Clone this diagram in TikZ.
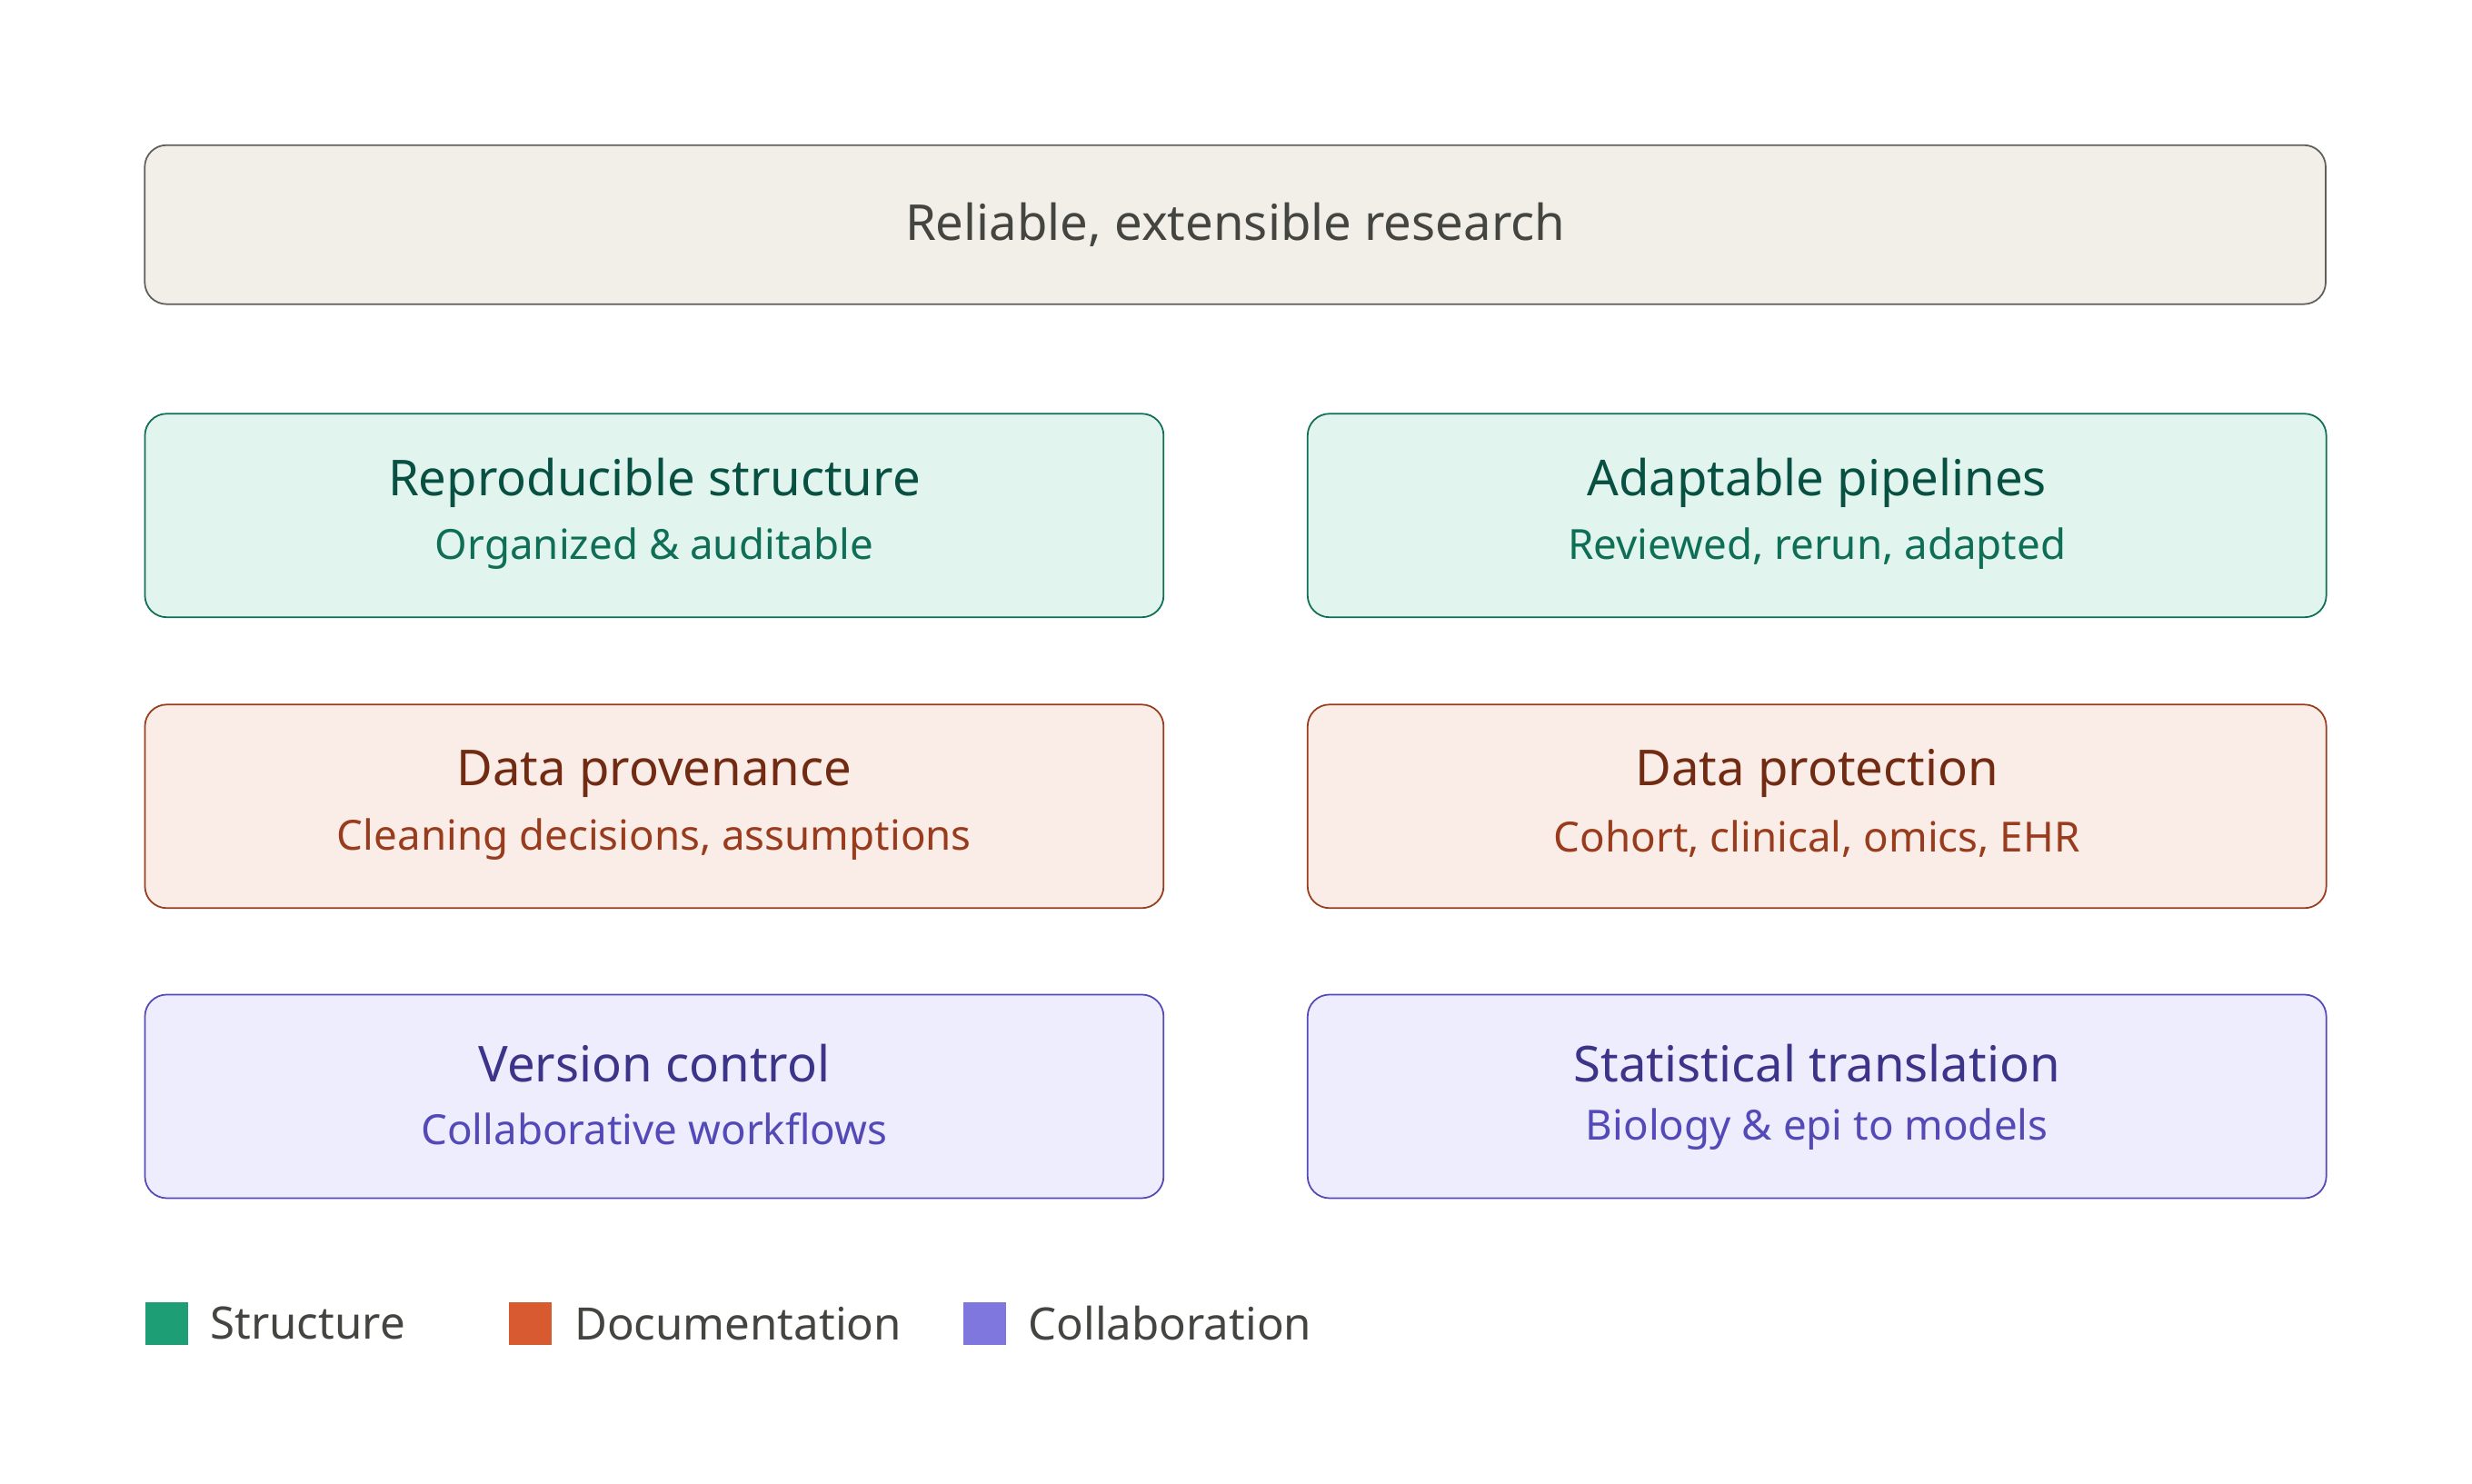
\documentclass[tikz,border=0pt]{standalone}
\usepackage{fontspec}
\setmainfont{Noto Sans}
\usetikzlibrary{positioning}
\definecolor{topfill}{HTML}{F1EFE8}\definecolor{topline}{HTML}{5F5E5A}\definecolor{toptext}{HTML}{444441}
\definecolor{gfill}{HTML}{E1F5EE}\definecolor{gline}{HTML}{0F6E56}\definecolor{gtitle}{HTML}{085041}\definecolor{gkey}{HTML}{1D9E75}
\definecolor{ofill}{HTML}{FAECE7}\definecolor{oline}{HTML}{993C1D}\definecolor{otitle}{HTML}{712B13}\definecolor{okey}{HTML}{D85A30}
\definecolor{pfill}{HTML}{EEEDFE}\definecolor{pline}{HTML}{534AB7}\definecolor{ptitle}{HTML}{3C3489}\definecolor{pkey}{HTML}{7F77DD}
\tikzset{
  box/.style={draw, rounded corners=0.24cm, line width=0.5pt, minimum width=11.21cm, minimum height=2.24cm},
  ttl/.style={font=\fontsize{15.5}{18}\selectfont\bfseries},
  sub/.style={font=\fontsize{13}{16}\selectfont},
  key/.style={minimum size=0.47cm, inner sep=0pt},
  keytext/.style={font=\fontsize{14}{17}\selectfont, text=toptext, anchor=west, inner sep=0pt}
}
% #1 name, #2 x, #3 y, #4 colour prefix, #5 title, #6 subtitle
\newcommand{\pillar}[6]{
  \node[box, draw=#4line, fill=#4fill] (#1) at (#2,#3) {};
  \node[ttl, text=#4title] (#1t) at ([yshift=0.36cm]#1.center) {#5};
  \node[sub, text=#4line] (#1s) at ([yshift=-0.36cm]#1.center) {#6};
}
\begin{document}
\begin{tikzpicture}[x=0.01735cm, y=-0.01735cm]
\useasboundingbox (0,0) rectangle (1568,941);
% top
\node[draw=topline, fill=topfill, rounded corners=0.24cm, line width=0.5pt, minimum width=24cm, minimum height=1.75cm,
  font=\fontsize{15.5}{18}\selectfont, text=toptext] (goal) at (783.5,142.5) {Reliable, extensible research};
% rows
\pillar{repro}{415}{327}{g}{Reproducible structure}{Organized \& auditable}
\pillar{adapt}{1152.5}{327}{g}{Adaptable pipelines}{Reviewed, rerun, adapted}
\pillar{prov}{415}{511.5}{o}{Data provenance}{Cleaning decisions, assumptions}
\pillar{prot}{1152.5}{511.5}{o}{Data protection}{Cohort, clinical, omics, EHR}
\pillar{vers}{415}{695.5}{p}{Version control}{Collaborative workflows}
\pillar{stat}{1152.5}{695.5}{p}{Statistical translation}{Biology \& epi to models}
% legend
\node[key, fill=gkey] (k1) at (106,839.5) {};
\node[keytext] (k1t) at (133,839.5) {Structure};
\node[key, fill=okey] (k2) at (336.5,839.5) {};
\node[keytext] (k2t) at (364,839.5) {Documentation};
\node[key, fill=pkey] (k3) at (624.5,839.5) {};
\node[keytext] (k3t) at (652,839.5) {Collaboration};
\end{tikzpicture}
\end{document}
